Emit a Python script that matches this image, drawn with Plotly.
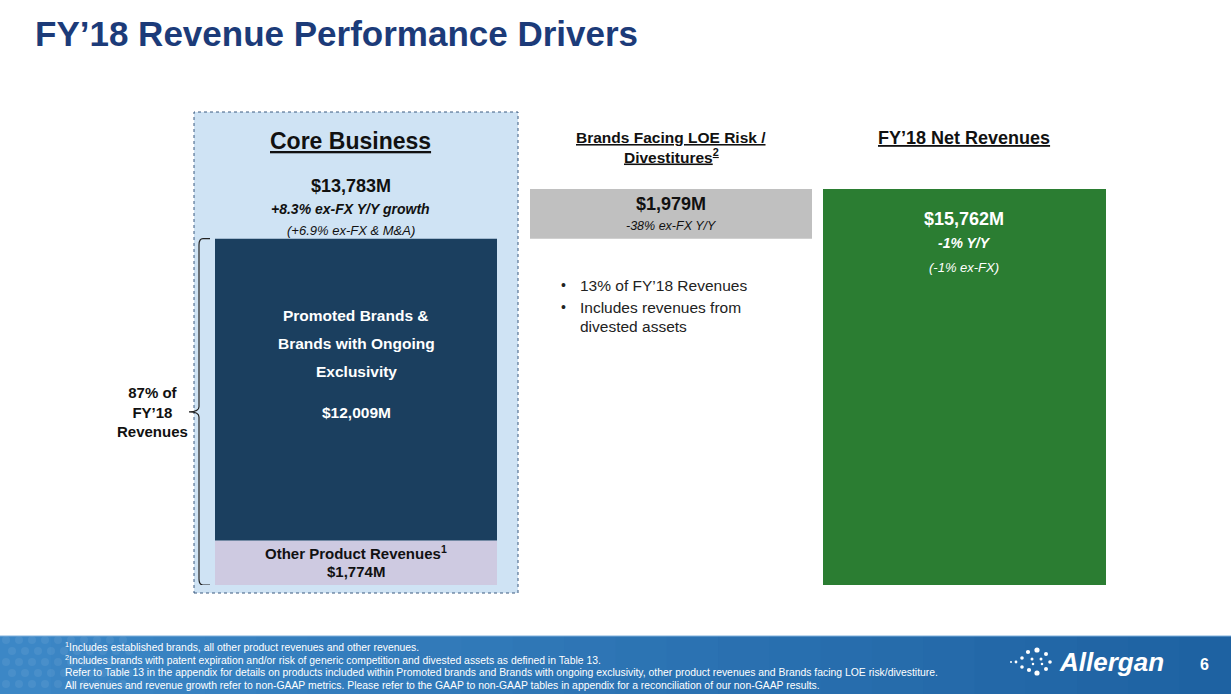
import plotly.graph_objects as go

# --- data ($M) ---
core_segments = ["Promoted Brands &", "Brands with Ongoing", "Exclusivity"]
other_label = "Other Product Revenues<sup>1</sup>"
core_values = [12009, 1774]
core_growth = ["+8.3% ex-FX Y/Y growth", "(+6.9% ex-FX & M&A)"]
core_share = 87
loe_value = 1979
loe_growth = "-38% ex-FX Y/Y"
loe_share = 13
net_revenue = 15762
net_growth = ["-1% Y/Y", "(-1% ex-FX)"]

core_total = sum(core_values)

# --- layout helpers (pixels of the 1231x694 slide) ---
W, H = 1231, 694
FONT = "Liberation Sans, Arial, sans-serif"
X_CORE, X_LOE, X_NET = 356, 671, 964.5
BAR_W = 282


def px(x):
    return x / W


def py(y):
    return 1 - y / H


def money(v):
    return f"${v:,}M"


fig = go.Figure()

# bars (waterfall-like, drawn through the y axis)
fig.add_trace(go.Bar(x=[X_CORE], y=[core_values[1]], base=[0], width=BAR_W,
                     marker=dict(color="#cecae1", line_width=0)))
fig.add_trace(go.Bar(x=[X_CORE], y=[core_values[0]], base=[core_values[1]], width=BAR_W,
                     marker=dict(color="#1b3f5f", line_width=0)))
fig.add_trace(go.Bar(x=[X_LOE], y=[loe_value], base=[core_total], width=BAR_W,
                     marker=dict(color="#c0c0c0", line_width=0)))
fig.add_trace(go.Bar(x=[X_NET], y=[net_revenue], base=[0], width=BAR_W + 1,
                     marker=dict(color="#2b7d32", line_width=0)))

shapes = []
# light blue core business box
shapes.append(dict(type="rect", xref="paper", yref="paper", x0=px(194), x1=px(518), y0=py(593), y1=py(112),
                   fillcolor="#cfe3f4", line=dict(color="#3a5a80", width=1, dash="dot"), layer="below"))
# brace spanning the core bar
yb, yt, ym = 0, core_total, core_total / 2
shapes.append(dict(type="path", xref="x", yref="y", layer="above",
                   path=f"M 210,{yt} L 203,{yt} Q 199,{yt} 199,{yt - 250} L 199,{ym + 200} "
                        f"Q 199,{ym} 189,{ym} Q 199,{ym} 199,{ym - 200} L 199,{yb + 250} "
                        f"Q 199,{yb} 203,{yb} L 210,{yb}",
                   line=dict(color="#222222", width=1.2)))
# footer band with a left-to-right gradient
n = 24
c0, c1 = (60, 135, 198), (30, 98, 162)
for i in range(n):
    t = i / (n - 1)
    col = tuple(round(a + (b - a) * t) for a, b in zip(c0, c1))
    shapes.append(dict(type="rect", xref="paper", yref="paper", x0=i / n, x1=(i + 1) / n + 0.002,
                       y0=0, y1=py(636), fillcolor=f"rgb{col}", line_width=0, layer="below"))
shapes.append(dict(type="line", xref="paper", yref="paper", x0=0, x1=1, y0=py(636), y1=py(636),
                   line=dict(color="#7fb0dc", width=1)))
# faint dot pattern on the left of the footer
for row, cy in enumerate([640, 651, 662, 673, 684]):
    for k in range(10):
        cx = 6 + k * 13 + (row % 2) * 6
        shapes.append(dict(type="circle", xref="paper", yref="paper", x0=px(cx - 4), x1=px(cx + 4),
                           y0=py(cy + 4), y1=py(cy - 4), fillcolor="rgba(255,255,255,0.07)",
                           line_width=0, layer="below"))
# logo dots
dots = [(1037, 650, 2.6), (1028, 652, 2.1), (1046, 654, 2.0), (1022, 658, 1.8), (1016, 662, 1.4),
        (1011, 662, 1.0), (1032, 659, 1.5), (1041, 659, 1.5), (1050, 662, 1.8), (1022, 667, 1.8),
        (1029, 670, 2.1), (1037, 673, 2.6), (1046, 669, 2.0), (1033, 664, 1.3), (1042, 664, 1.3)]
for cx, cy, r in dots:
    shapes.append(dict(type="circle", xref="paper", yref="paper", x0=px(cx - r), x1=px(cx + r),
                       y0=py(cy + r), y1=py(cy - r), fillcolor="white", line_width=0, layer="above"))

ann = []


def text(t, x, y, size, color="#111111", xanchor="center", align="center"):
    ann.append(dict(text=t, x=px(x), y=py(y), xref="paper", yref="paper", showarrow=False,
                    xanchor=xanchor, yanchor="middle", align=align,
                    font=dict(family=FONT, size=size, color=color)))


# title
text("<b>FY’18 Revenue Performance Drivers</b>", 33, 34, 35, "#1c3b79", xanchor="left")

# core business header
text("<b><u>Core Business</u></b>", 351, 141, 23)
text(f"<b>{money(core_total)}</b>", 351, 186, 18)
text(f"<b><i>{core_growth[0]}</i></b>", 351, 209, 14)
text(f"<i>{core_growth[1]}</i>", 351, 230, 13)

# inside core bars
for i, line in enumerate(core_segments):
    text(f"<b>{line}</b>", 356, 315 + 28 * i, 15.5, "white")
text(f"<b>{money(core_values[0])}</b>", 356, 412, 15.5, "white")
text(f"<b>{other_label}</b>", 356, 552, 15)
text(f"<b>{money(core_values[1])}</b>", 356, 571, 15)

# share of core
text(f"<b>{core_share}% of<br>FY’18<br>Revenues</b>", 152, 412, 15)

# LOE
text("<b><u>Brands Facing LOE Risk /</u></b>", 671, 137, 15.5)
text("<b><u>Divestitures<sup>2</sup></u></b>", 671, 156, 15.5)
text(f"<b>{money(loe_value)}</b>", 671, 204, 18)
text(f"<i>{loe_growth}</i>", 671, 226, 12.5)
text("•", 563, 285, 14, "#222222")
text(f"{loe_share}% of FY’18 Revenues", 578, 285, 15.5, "#222222", xanchor="left")
text("•", 563, 307, 14, "#222222")
text("Includes revenues from", 578, 307, 15.5, "#222222", xanchor="left")
text("divested assets", 578, 327, 15.5, "#222222", xanchor="left")

# net revenues
text("<b><u>FY’18 Net Revenues</u></b>", 964, 138, 18)
text(f"<b>{money(net_revenue)}</b>", 964, 219, 18, "white")
text(f"<b><i>{net_growth[0]}</i></b>", 964, 243, 14, "white")
text(f"<i>{net_growth[1]}</i>", 964, 267, 13, "white")

# footer
foot = [
    "<sup>1</sup>Includes established brands, all other product revenues and other revenues.",
    "<sup>2</sup>Includes brands with patent expiration and/or risk of generic competition and divested assets as defined in Table 13.",
    "Refer to Table 13 in the appendix for details on products included within Promoted brands and Brands with ongoing exclusivity, other product revenues and Brands facing LOE risk/divestiture.",
    "All revenues and revenue growth refer to non-GAAP metrics. Please refer to the GAAP to non-GAAP tables in appendix for a reconciliation of our non-GAAP results.",
]
for i, line in enumerate(foot):
    text(line, 63, 646 + 13 * i, 10.4, "white", xanchor="left", align="left")
text("<b><i>Allergan</i></b>", 1057, 662, 26, "white", xanchor="left")
text("<b>6</b>", 1204, 664, 16, "white")

fig.update_layout(
    width=W, height=H,
    margin=dict(l=0, r=0, t=0, b=0),
    paper_bgcolor="white", plot_bgcolor="rgba(0,0,0,0)",
    barmode="overlay", showlegend=False, hovermode=False,
    xaxis=dict(range=[0, W], domain=[0, 1], visible=False, fixedrange=True),
    yaxis=dict(range=[0, net_revenue], domain=[1 - 585 / H, 1 - 189 / H], visible=False, fixedrange=True),
    shapes=shapes, annotations=ann,
)

fig.write_html("out.html", config={"displayModeBar": False},
               post_script="document.body.style.margin='0';")
